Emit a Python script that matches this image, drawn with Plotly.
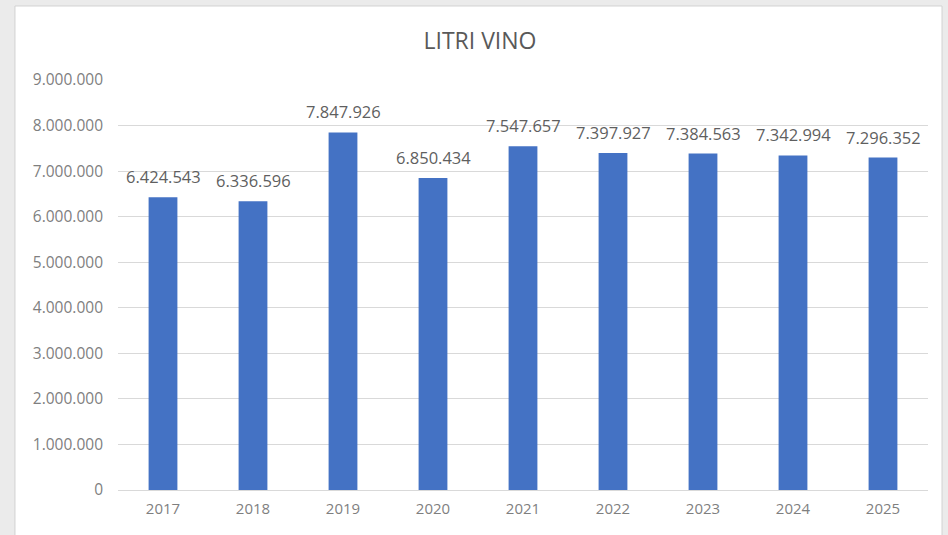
import plotly.graph_objects as go

# Wine litres per year
years = ["2017", "2018", "2019", "2020", "2021", "2022", "2023", "2024", "2025"]
litri = [6424543, 6336596, 7847926, 6850434, 7547657, 7397927, 7384563, 7342994, 7296352]

y_ticks = [0, 1000000, 2000000, 3000000, 4000000, 5000000, 6000000, 7000000, 8000000, 9000000]

BAR_COLOR = "#4472C4"
FONT = "Open Sans"


def fmt_it(n):
    return f"{n:,}".replace(",", ".")


fig = go.Figure(
    go.Bar(
        x=years,
        y=litri,
        marker=dict(color=BAR_COLOR, line=dict(width=0)),
        hoverinfo="skip",
    )
)

# value labels above each bar (category index positions)
for i, v in enumerate(litri):
    fig.add_annotation(
        x=i, y=v, text=fmt_it(v), showarrow=False,
        xref="x", yref="y", yanchor="bottom", yshift=7,
        font=dict(family=FONT, size=16.5, color="#5f5f5f"),
    )

# white card behind the chart
fig.add_shape(
    type="rect", xref="paper", yref="paper", layer="below",
    x0=-0.1272, x1=1.0173, y0=-0.13, y1=1.1805,
    fillcolor="white", line=dict(color="#d2d2d2", width=1),
)

fig.update_layout(
    width=948, height=535,
    margin=dict(l=118, r=20, t=80, b=45),
    paper_bgcolor="#ebebeb",
    plot_bgcolor="rgba(0,0,0,0)",
    separators=",.",
    bargap=0.68,
    showlegend=False,
    title=dict(
        text="LITRI VINO", x=480 / 948, xanchor="center",
        y=1 - 41 / 535, yanchor="middle",
        font=dict(family=FONT, size=23, color="#595959"),
    ),
    xaxis=dict(
        type="category", range=[-0.5, len(years) - 0.5],
        showgrid=False, zeroline=False, showline=False,
        ticks="", ticklabelstandoff=8,
        tickfont=dict(family=FONT, size=15, color="#7f7f7f"),
    ),
    yaxis=dict(
        range=[0, 9000000], tickvals=y_ticks,
        ticktext=[fmt_it(t) for t in y_ticks],
        showgrid=True, gridcolor="#d9d9d9", gridwidth=1,
        zeroline=True, zerolinecolor="#d9d9d9", zerolinewidth=1,
        showline=False, ticks="", ticklabelstandoff=14,
        tickfont=dict(family=FONT, size=15.5, color="#7f7f7f"),
    ),
)

fig.write_html("out.html")
